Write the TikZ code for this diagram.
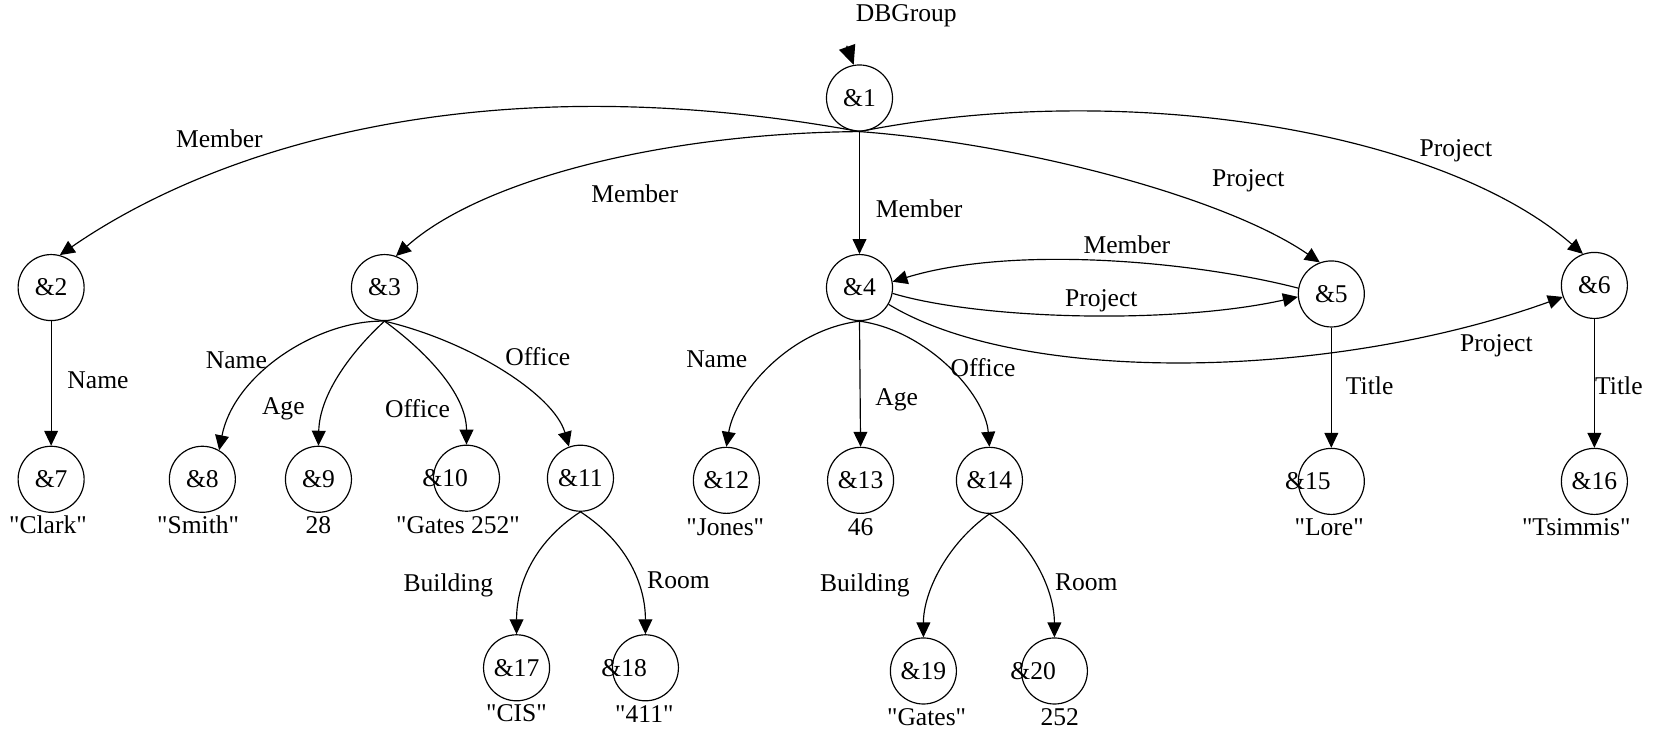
\documentclass[tikz,border=0pt]{standalone}
\usepackage{fontspec}
\setmainfont{Liberation Serif}[Ligatures=TeXOff]
\usetikzlibrary{arrows.meta}
\newcommand{\qt}[1]{"#1"}
\tikzset{
  obj/.style={circle, draw, minimum size=31pt, inner sep=0pt, line width=0.55pt},
  arr/.style={-{Triangle[length=7pt,width=6.5pt]}, line width=0.55pt},
  bigarr/.style={-{Triangle[length=9pt,width=8pt]}, line width=0.55pt},
  lbl/.style={inner sep=1pt, font=\fontsize{12}{14}\selectfont},
  val/.style={inner sep=1pt, font=\fontsize{12}{14}\selectfont},
}
\begin{document}
\begin{tikzpicture}[x=0.5pt, y=-0.5pt, font=\fontsize{12}{14}\selectfont]
\useasboundingbox (0,0) rectangle (1568,685);
% objects
\node[obj] (n1) at (807,92) {\&1};
\node[obj] (n2) at (48,270) {\&2};
\node[obj] (n3) at (361,270) {\&3};
\node[obj] (n4) at (807,270) {\&4};
\node[obj] (n5) at (1250,276) {\&5};
\node[obj] (n6) at (1497,268) {\&6};
\node[obj] (n7) at (48,450) {\&7};
\node[obj] (n8) at (190,450) {\&8};
\node[obj] (n9) at (299,450) {\&9};
\node[obj, label={[xshift=-10pt]center:\&10}] (n10) at (438,449) {};
\node[obj] (n11) at (545,449) {\&11};
\node[obj] (n12) at (682,451) {\&12};
\node[obj] (n13) at (808,451) {\&13};
\node[obj] (n14) at (929,451) {\&14};
\node[obj, label={[xshift=-11pt]center:\&15}] (n15) at (1250,452) {};
\node[obj] (n16) at (1497,452) {\&16};
\node[obj] (n17) at (485,627) {\&17};
\node[obj, label={[xshift=-10pt]center:\&18}] (n18) at (606,627) {};
\node[obj] (n19) at (867,630) {\&19};
\node[obj, label={[xshift=-10pt]center:\&20}] (n20) at (990,630) {};
% values
\node[val] (v7) at (45,493) {\qt{Clark}};
\node[val] (v8) at (186,493) {\qt{Smith}};
\node[val] (v9) at (299,493) {28};
\node[val] (v10) at (430,493) {\qt{Gates 252}};
\node[val] (v12) at (681,495) {\qt{Jones}};
\node[val] (v13) at (808,495) {46};
\node[val] (v15) at (1248,495) {\qt{Lore}};
\node[val] (v16) at (1480,495) {\qt{Tsimmis}};
\node[val] (v17) at (485,670) {\qt{CIS}};
\node[val] (v18) at (605,670) {\qt{411}};
\node[val] (v19) at (870,673) {\qt{Gates}};
\node[val] (v20) at (995,673) {252};
% root
\node[val] (db) at (851,15) {DBGroup};
\coordinate (dbs) at (795,43);
\draw[bigarr] (dbs) -- (n1.100);
% edges
\draw[arr] (n1.south) .. controls (450,58) and (200,140) .. (n2.75);
\draw[arr] (n1.south) .. controls (620,125) and (450,170) .. (n3.70);
\draw[arr] (n1.south) -- (n4.north);
\draw[arr] (n1.south) .. controls (960,135) and (1150,185) .. (n5.110);
\draw[arr] (n1.south) .. controls (1050,75) and (1350,120) .. (n6.110);
\draw[arr] (n5.170) .. controls (1120,245) and (950,230) .. (n4.10);
\draw[arr] (n4.-10) .. controls (920,300) and (1100,305) .. (n5.185);
\draw[arr] (n4.-30) .. controls (960,362) and (1250,357) .. (n6.200);
\draw[arr] (n2.south) -- (n7.north);
\draw[arr] (n3.south) .. controls (300,300) and (220,350) .. (n8.60);
\draw[arr] (n3.south) .. controls (330,330) and (300,370) .. (n9.north);
\draw[arr] (n3.south) .. controls (400,330) and (438,370) .. (n10.north);
\draw[arr] (n3.south) .. controls (440,320) and (520,370) .. (n11.110);
\draw[arr] (n4.south) .. controls (740,310) and (690,370) .. (n12.north);
\draw[arr] (n4.south) -- (n13.north);
\draw[arr] (n4.south) .. controls (870,310) and (925,370) .. (n14.north);
\draw[arr] (n5.south) -- (n15.north);
\draw[arr] (n6.south) -- (n16.north);
\draw[arr] (n11.south) .. controls (500,510) and (485,550) .. (n17.north);
\draw[arr] (n11.south) .. controls (590,510) and (606,550) .. (n18.north);
\draw[arr] (n14.south) .. controls (890,510) and (867,555) .. (n19.north);
\draw[arr] (n14.south) .. controls (970,510) and (990,555) .. (n20.north);
% edge labels
\node[lbl] (l1) at (206,130) {Member};
\node[lbl] (l2) at (596,182) {Member};
\node[lbl] (l3) at (863,196) {Member};
\node[lbl] (l4) at (1172,170) {Project};
\node[lbl] (l5) at (1367,142) {Project};
\node[lbl] (l6) at (1058,230) {Member};
\node[lbl] (l7) at (1034,282) {Project};
\node[lbl] (l8) at (1405,325) {Project};
\node[lbl] (l9) at (92,357) {Name};
\node[lbl] (l10) at (222,338) {Name};
\node[lbl] (l11) at (266,384) {Age};
\node[lbl] (l12) at (392,384) {Office};
\node[lbl] (l13) at (505,335) {Office};
\node[lbl] (l14) at (673,337) {Name};
\node[lbl] (l15) at (842,375) {Age};
\node[lbl] (l16) at (923,345) {Office};
\node[lbl] (l17) at (1286,362) {Title};
\node[lbl] (l18) at (1520,362) {Title};
\node[lbl] (l19) at (421,550) {Building};
\node[lbl] (l20) at (637,545) {Room};
\node[lbl] (l21) at (812,550) {Building};
\node[lbl] (l22) at (1020,547) {Room};
\end{tikzpicture}
\end{document}
